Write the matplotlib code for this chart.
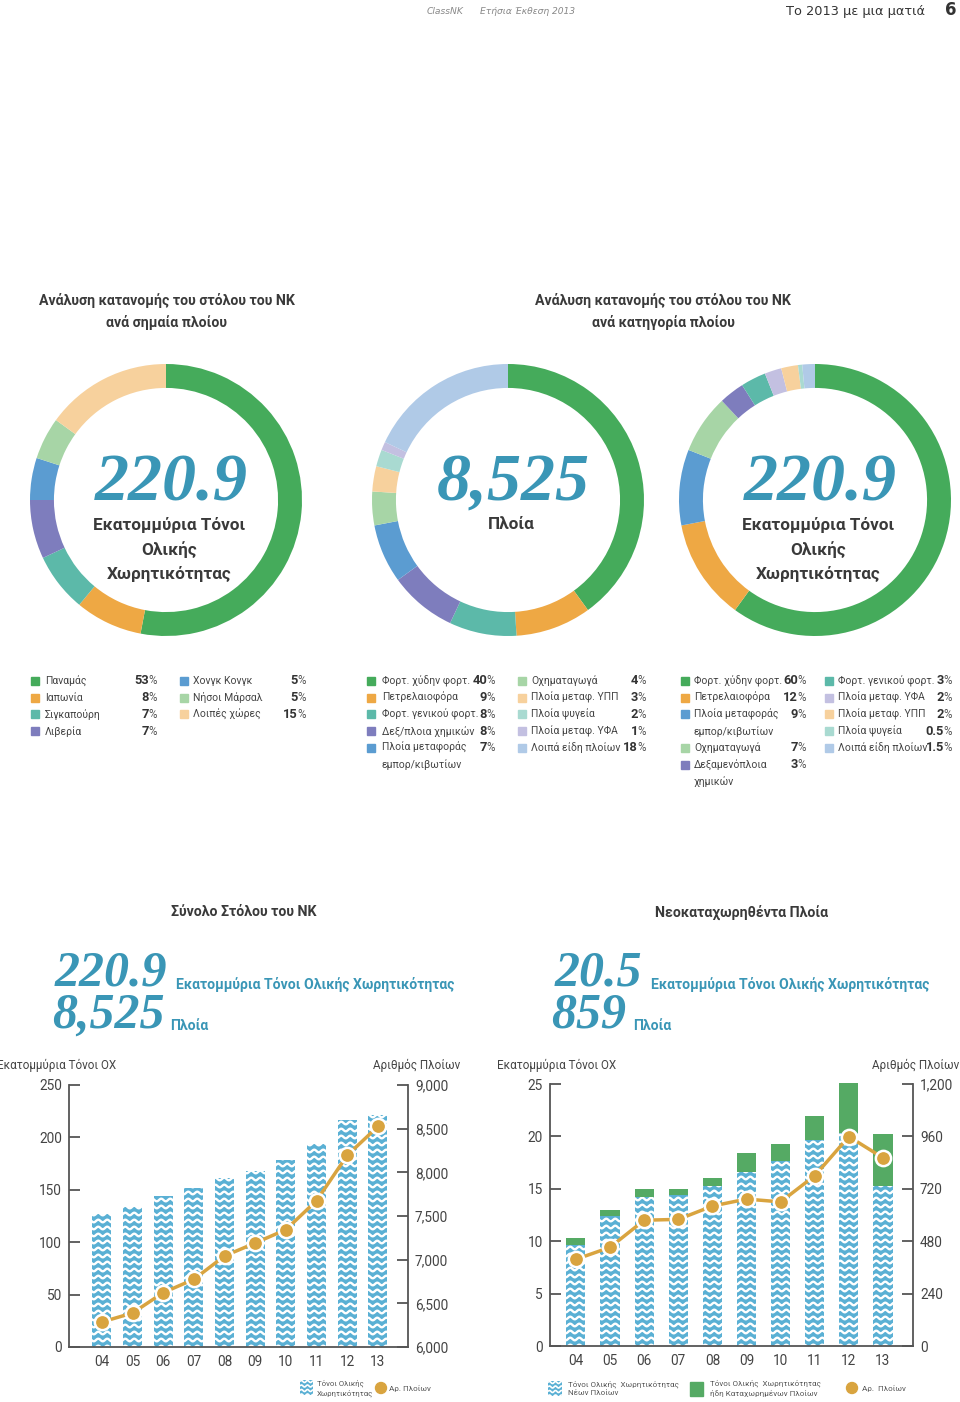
import numpy as np
import matplotlib
matplotlib.use("Agg")
from matplotlib import pyplot as plt
from matplotlib.patches import Rectangle, Ellipse
from matplotlib.collections import LineCollection
from matplotlib.ticker import FuncFormatter

# ---- data ----
flag_labels = ["Παναμάς", "Ιαπωνία", "Σιγκαπούρη", "Λιβερία",
               "Χονγκ Κονγκ", "Νήσοι Μάρσαλ", "Λοιπές χώρες"]
flag_pct = [53, 8, 7, 7, 5, 5, 15]

ship_type_labels = ["Φορτ. χύδην φορτ.", "Πετρελαιοφόρα", "Φορτ. γενικού φορτ.",
                    "Δεξ/πλοια χημικών", "Πλοία μεταφοράς\nεμπορ/κιβωτίων",
                    "Οχηματαγωγά", "Πλοία μεταφ. ΥΠΠ", "Πλοία ψυγεία",
                    "Πλοία μεταφ. ΥΦΑ", "Λοιπά είδη πλοίων"]
ship_type_pct = [40, 9, 8, 8, 7, 4, 3, 2, 1, 18]

gt_type_labels = ["Φορτ. χύδην φορτ.", "Πετρελαιοφόρα", "Πλοία μεταφοράς\nεμπορ/κιβωτίων",
                  "Οχηματαγωγά", "Δεξαμενόπλοια\nχημικών", "Φορτ. γενικού φορτ.",
                  "Πλοία μεταφ. ΥΦΑ", "Πλοία μεταφ. ΥΠΠ", "Πλοία ψυγεία",
                  "Λοιπά είδη πλοίων"]
gt_type_pct = [60, 12, 9, 7, 3, 3, 2, 2, 0.5, 1.5]

years = ["04", "05", "06", "07", "08", "09", "10", "11", "12", "13"]
fleet_gt = [126.5, 134, 143.8, 151.7, 161, 168, 178.7, 194, 216.6, 220.9]
fleet_ships = [6286, 6389, 6622, 6775, 7042, 7191, 7344, 7676, 8195, 8525]
new_gt_new = [9.6, 12.4, 14.2, 14.4, 15.3, 16.6, 17.7, 19.7, 20.3, 15.3]
new_gt_reg = [0.7, 0.6, 0.75, 0.55, 0.75, 1.85, 1.6, 2.25, 4.8, 4.9]
new_ships = [397, 452, 576, 580, 641, 673, 660, 780, 959, 862]

# ---- colours ----
GREEN = "#45AB5B"
ORANGE = "#EEA844"
TEAL = "#5CB9A9"
PURPLE = "#7E7DBD"
BLUE = "#5B9CD1"
LGREEN = "#A7D5A6"
PEACH = "#F7D19D"
LTEAL = "#A9DAD1"
LAV = "#C3C0E1"
LBLUE = "#B0CAE7"
flag_colors = [GREEN, ORANGE, TEAL, PURPLE, BLUE, LGREEN, PEACH]
ship_type_colors = [GREEN, ORANGE, TEAL, PURPLE, BLUE, LGREEN, PEACH, LTEAL, LAV, LBLUE]
gt_type_colors = [GREEN, ORANGE, BLUE, LGREEN, PURPLE, TEAL, LAV, PEACH, LTEAL, LBLUE]

NUMC = "#3A96B6"
DARK = "#3a3a3a"
GREY = "#555555"
BARBLUE = "#5AB0D4"
BARGREEN = "#55AA64"
GOLD = "#D9A43F"

NARROW = ["Roboto", "DejaVu Sans"]
SERIF = ["Liberation Serif", "DejaVu Serif"]

W, H = 960, 1402
fig = plt.figure(figsize=(W / 100, H / 100), dpi=100)


def frect(x0, y0, x1, y1):
    return [x0 / W, 1 - y1 / H, (x1 - x0) / W, (y1 - y0) / H]


def ftext(x, y, s, **kw):
    kw.setdefault("family", NARROW)
    kw.setdefault("va", "center")
    return fig.text(x / W, 1 - y / H, s, **kw)


def add_waves(ax, patch, step=7.0, amp=1.3, period=9.0, lw=1.7):
    bb = ax.get_position()
    axw, axh = bb.width * W, bb.height * H
    xs = np.linspace(0, 1, int(axw * 2))
    segs = []
    for k in range(int(axh / step) + 2):
        ys = (k * step + amp * np.sin(2 * np.pi * xs * axw / period)) / axh
        segs.append(np.column_stack([xs, ys]))
    lc = LineCollection(segs, colors="white", linewidths=lw,
                        transform=ax.transAxes, zorder=patch.get_zorder() + 0.1)
    ax.add_collection(lc)
    lc.set_clip_path(patch)


# ---- header ----
ftext(427, 12, "ClassNK", family="DejaVu Sans", style="italic", size=6.6, color="#888888", ha="left")
ftext(480, 12, "Ετήσια Έκθεση 2013", family="DejaVu Sans", style="italic", size=6.6, color="#888888", ha="left")
ftext(925, 11, "Το 2013 με μια ματιά", family="DejaVu Sans", size=9.3, color="#333333", ha="right")
ftext(951, 10, "6", family="DejaVu Sans", weight="bold", size=12, color="#333333", ha="center")

# ---- section titles ----
ftext(167, 300, "Ανάλυση κατανομής του στόλου του ΝΚ", weight="bold", size=10.2, color=DARK, ha="center")
ftext(167, 322, "ανά σημαία πλοίου", weight="bold", size=10.2, color=DARK, ha="center")
ftext(663, 300, "Ανάλυση κατανομής του στόλου του ΝΚ", weight="bold", size=10.2, color=DARK, ha="center")
ftext(663, 322, "ανά κατηγορία πλοίου", weight="bold", size=10.2, color=DARK, ha="center")

# ---- donuts ----
donuts = [
    (166, flag_pct, flag_colors, "220.9", ["Εκατομμύρια Τόνοι", "Ολικής", "Χωρητικότητας"]),
    (508, ship_type_pct, ship_type_colors, "8,525", ["Πλοία"]),
    (815, gt_type_pct, gt_type_colors, "220.9", ["Εκατομμύρια Τόνοι", "Ολικής", "Χωρητικότητας"]),
]
R = 136
for cx, vals, cols, big, words in donuts:
    ax = fig.add_axes(frect(cx - R, 500 - R, cx + R, 500 + R))
    ax.pie(vals, colors=cols, startangle=90, counterclock=False, radius=1,
           wedgeprops=dict(width=0.176, linewidth=0))
    ax.set_xlim(-1, 1)
    ax.set_ylim(-1, 1)
    ax.set_aspect("equal")
    ax.axis("off")
    ftext(cx + 5, 484, big, family=SERIF, style="italic", weight="bold", size=49, color=NUMC, ha="center")
    for i, w in enumerate(words):
        ftext(cx + 3, 525 + i * 24.5, w, weight="bold", size=12.3, color=DARK, ha="center")

# ---- donut legends ----
legend_blocks = [
    (flag_labels, flag_pct, flag_colors, 4, [(35, 45, 148), (184, 193, 297)]),
    (ship_type_labels, ship_type_pct, ship_type_colors, 5, [(371, 382, 486), (522, 531, 637)]),
    (gt_type_labels, gt_type_pct, gt_type_colors, 5, [(685, 694, 797), (829, 838, 943)]),
]
STEP = 16.7
for labels, vals, cols, ncol1, cols_x in legend_blocks:
    for c, (sqx, tx, nr) in enumerate(cols_x):
        idx = range(0, ncol1) if c == 0 else range(ncol1, len(labels))
        y = 681
        for i in idx:
            fig.patches.append(Rectangle(((sqx - 4) / W, 1 - (y + 4) / H), 8 / W, 8 / H,
                                         transform=fig.transFigure, color=cols[i]))
            ftext(nr + 1, y, f"{vals[i]:g}", weight="bold", size=9.3, color="#333333", ha="right")
            ftext(nr, y, "%", size=8.3, color="#555555", ha="left")
            for line in labels[i].split("\n"):
                ftext(tx, y, line, size=7.5, color="#444444", ha="left")
                y += STEP

# ---- lower titles ----
ftext(244, 912, "Σύνολο Στόλου του ΝΚ", weight="bold", size=10.2, color=DARK, ha="center")
ftext(742, 912, "Νεοκαταχωρηθέντα Πλοία", weight="bold", size=10.2, color=DARK, ha="center")

for x_num, x_txt, y, num, txt in [(55, 176, 974, "220.9", "Εκατομμύρια Τόνοι Ολικής Χωρητικότητας"),
                                  (52, 170, 1016, "8,525", "Πλοία"),
                                  (555, 651, 974, "20.5", "Εκατομμύρια Τόνοι Ολικής Χωρητικότητας"),
                                  (551, 633, 1016, "859", "Πλοία")]:
    ftext(x_num, y, num, family=SERIF, style="italic", weight="bold", size=36, color=NUMC, ha="left")
    ftext(x_txt, y + 10, txt, weight="bold", size=10.1, color=NUMC, ha="left")


# ---- bar charts ----
def style_axes(ax, ax2, yt, yt2):
    for s in ["top", "right"]:
        ax.spines[s].set_visible(False)
    for s in ["top", "left", "bottom"]:
        ax2.spines[s].set_visible(False)
    for sp in [ax.spines["left"], ax.spines["bottom"], ax2.spines["right"]]:
        sp.set_color(GREY)
        sp.set_linewidth(1.3)
    ax.set_yticks(yt)
    ax2.set_yticks(yt2)
    ax2.yaxis.set_major_formatter(FuncFormatter(lambda v, p: f"{v:,.0f}"))
    ax.tick_params(axis="y", direction="in", length=8, width=1.3, color=GREY, pad=5,
                   labelsize=9.8, labelcolor="#444444", labelfontfamily=NARROW)
    ax2.tick_params(axis="y", direction="in", length=8, width=1.3, color=GREY, pad=5,
                    labelsize=9.8, labelcolor="#444444", labelfontfamily=NARROW)
    ax.tick_params(axis="x", length=0, pad=6, labelsize=9.8, labelcolor="#444444",
                   labelfontfamily=NARROW)
    ax.set_zorder(ax2.get_zorder() - 1)
    ax.patch.set_visible(False)


x = np.arange(len(years))

# left: total fleet
ax = fig.add_axes(frect(69, 1085, 408, 1347))
bars = ax.bar(x, fleet_gt, width=0.62, color=BARBLUE, linewidth=0, zorder=2)
for b in bars:
    add_waves(ax, b)
ax.set_xlim(-1.07, 9.98)
ax.set_ylim(0, 250)
ax.set_xticks(x, years)
ax2 = ax.twinx()
ax2.set_ylim(6000, 9000)
ax2.plot(x, fleet_ships, color=GOLD, lw=2.5, marker="o", ms=11, mfc=GOLD, mec="white", mew=1.8,
         clip_on=False)
style_axes(ax, ax2, range(0, 251, 50), range(6000, 9001, 500))

# right: new registrations
axb = fig.add_axes(frect(550, 1084, 913, 1346))
bars_new = axb.bar(x, new_gt_new, width=0.56, color=BARBLUE, linewidth=0, zorder=2)
for b in bars_new:
    add_waves(axb, b)
axb.bar(x, new_gt_reg, bottom=new_gt_new, width=0.56, color=BARGREEN, linewidth=0, zorder=2,
        clip_on=False)
axb.set_xlim(-0.76, 9.88)
axb.set_ylim(0, 25)
axb.set_xticks(x, years)
axb2 = axb.twinx()
axb2.set_ylim(0, 1200)
axb2.plot(x, new_ships, color=GOLD, lw=2.5, marker="o", ms=11, mfc=GOLD, mec="white", mew=1.8,
          clip_on=False)
style_axes(axb, axb2, range(0, 26, 5), range(0, 1201, 240))

# axis titles
for cx_l, cx_r in [(57, 417), (557, 916)]:
    ftext(cx_l, 1065, "Εκατομμύρια Τόνοι ΟΧ", size=8.4, color="#444444", ha="center")
    ftext(cx_r, 1065, "Αριθμός Πλοίων", size=8.4, color="#444444", ha="center")


# ---- chart legends ----
def wave_icon(x0, y0, x1, y1):
    ia = fig.add_axes(frect(x0, y0, x1, y1))
    ia.axis("off")
    ia.set_xlim(0, 1)
    ia.set_ylim(0, 1)
    r = ia.add_patch(Rectangle((0, 0), 1, 1, color=BARBLUE, linewidth=0))
    add_waves(ia, r, step=4.5, amp=1.0, period=6, lw=1.2)


def dot_icon(cx, cy):
    fig.patches.append(Ellipse((cx / W, 1 - cy / H), 11 / W, 11 / H, transform=fig.transFigure,
                               color=GOLD))


LEGC = "#555555"
wave_icon(300, 1380, 313, 1395)
ftext(317, 1388, "Τόνοι Ολικής\nΧωρητικότητας", size=5.6, color=LEGC, ha="left", linespacing=1.45)
dot_icon(381, 1388)
ftext(389, 1388, "Αρ. Πλοίων", size=5.8, color=LEGC, ha="left")

wave_icon(548, 1381, 562, 1396)
ftext(568, 1388, "Τόνοι Ολικής  Χωρητικότητας\nΝέων Πλοίων", size=5.8, color=LEGC, ha="left",
      linespacing=1.45)
fig.patches.append(Rectangle((690 / W, 1 - 1396 / H), 13 / W, 14 / H, transform=fig.transFigure,
                             color=BARGREEN))
ftext(710, 1388, "Τόνοι Ολικής  Χωρητικότητας\nήδη Καταχωρημένων Πλοίων", size=5.8, color=LEGC,
      ha="left", linespacing=1.45)
dot_icon(852, 1388)
ftext(862, 1388, "Αρ.  Πλοίων", size=5.8, color=LEGC, ha="left")

fig.savefig("out.png", dpi=100)
